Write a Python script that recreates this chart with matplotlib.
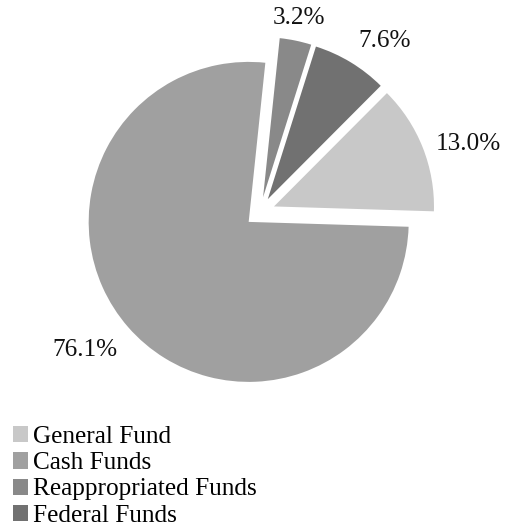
import numpy as np
import matplotlib.pyplot as plt
from matplotlib.patches import Patch

plt.rcParams['font.family'] = ['Liberation Serif', 'DejaVu Serif']

# 资金来源构成
funds = ['General Fund', 'Cash Funds', 'Reappropriated Funds', 'Federal Funds']
shares = [13.0, 76.1, 3.2, 7.6]
pct_labels = ['13.0%', '76.1%', '3.2%', '7.6%']
colors = ['#c8c8c8', '#a0a0a0', '#898989', '#717171']

fig = plt.figure(figsize=(5.08, 5.29), dpi=100)
ax = fig.add_axes([0, 0, 1, 1])

wedges, _ = ax.pie(shares, colors=colors, startangle=45.1, counterclock=False,
                   explode=[0.094] * 4, radius=1.0, center=(0, 0),
                   wedgeprops=dict(linewidth=0))

# 扇区外侧的百分比标签
for w, txt in zip(wedges, pct_labels):
    mid = np.deg2rad((w.theta1 + w.theta2) / 2)
    cx, cy = w.center
    c, s = np.cos(mid), np.sin(mid)
    x = cx + 1.09 * c
    y = cy + 1.09 * s - 0.015
    ha = 'left' if c > 0.25 else ('right' if c < -0.25 else 'center')
    va = 'bottom' if s > 0.5 else ('top' if s < -0.5 else 'center')
    ax.text(x, y, txt, ha=ha, va=va, fontsize=18.2, color='#111111')

ax.set_xlim(-1.625, 1.55)
ax.set_ylim(-1.98125, 1.325)
ax.set_aspect('equal')
ax.axis('off')

handles = [Patch(facecolor=c, edgecolor='none') for c in colors]
ax.legend(handles, funds, loc='upper left', bbox_to_anchor=(0.026, 0.194),
          frameon=False, fontsize=18.2, borderpad=0, borderaxespad=0,
          handlelength=0.6, handleheight=0.6, handletextpad=0.2,
          labelspacing=0.16)

fig.savefig('out.png', dpi=100)
